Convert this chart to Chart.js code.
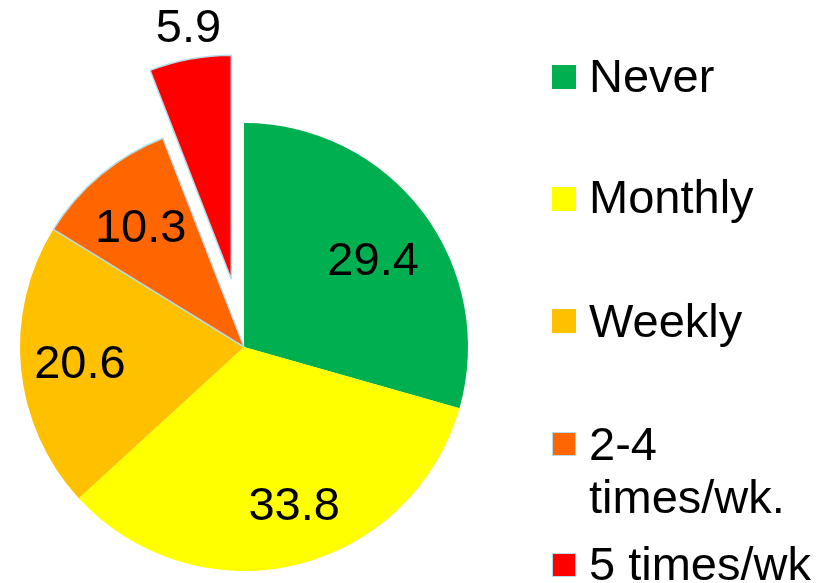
<!DOCTYPE html>
<html>
<head>
<meta charset="utf-8">
<script src="https://cdn.jsdelivr.net/npm/chart.js@4/dist/chart.umd.min.js"></script>
<style>
  html, body { margin: 0; padding: 0; background: #ffffff; }
  #wrap { position: relative; width: 831px; height: 583px; overflow: hidden; }
  #chartBox { position: absolute; left: 0; top: 0; width: 831px; height: 583px; }
  .sw { position: absolute; left: 552px; width: 24px; height: 24px; box-sizing: border-box; }
  .lt { position: absolute; left: 589px; width: 242px; font-family: "Liberation Sans", Arial, sans-serif;
        font-size: 47px; line-height: 53px; color: #000; white-space: normal; }
</style>
</head>
<body>
<div id="wrap">
  <div id="chartBox"><canvas id="c"></canvas></div>
  <div id="legend"></div>
</div>
<script>
// ---- data ----
const categories = ["Never", "Monthly", "Weekly", "2-4 times/wk.", "5 times/wk"];
const values = [29.4, 33.8, 20.6, 10.3, 5.9];
const colors = ["#00B050", "#FFFF00", "#FFC000", "#FF6600", "#FF0000"];
const explodedIndex = 4;

// ---- style ----
const edgeColor = "#B7DDE8";
const borderWidths = [0, 0, 0, 1.5, 1.5];
const explodeDistance = 69;
const labelRadiusFactor = [0.70, 0.70, 0.70, 0.70, 1.134];
const labelNudge = [[4, 10], [14, 7], [-8, 3], [-3, 3], [4, 0]];
const legendSwatchTops = [65, 187, 309, 432, 553];
const legendTextTops = [49, 170, 294, 417, 537];

const explodePlugin = {
  id: "explode",
  afterUpdate(chart) {
    const meta = chart.getDatasetMeta(0);
    const el = meta.data[explodedIndex];
    if (!el) return;
    const mid = (el.startAngle + el.endAngle) / 2;
    el.x += Math.cos(mid) * explodeDistance;
    el.y += Math.sin(mid) * explodeDistance;
  }
};

const labelPlugin = {
  id: "sliceLabels",
  afterDatasetsDraw(chart) {
    const ctx = chart.ctx;
    const meta = chart.getDatasetMeta(0);
    const data = chart.data.datasets[0].data;
    ctx.save();
    ctx.font = '47px "Liberation Sans", Arial, sans-serif';
    ctx.fillStyle = "#000000";
    ctx.textAlign = "center";
    ctx.textBaseline = "middle";
    meta.data.forEach((el, i) => {
      const mid = (el.startAngle + el.endAngle) / 2;
      const r = el.outerRadius * labelRadiusFactor[i];
      const x = el.x + Math.cos(mid) * r + labelNudge[i][0];
      const y = el.y + Math.sin(mid) * r + labelNudge[i][1];
      ctx.fillText(data[i].toFixed(1), x, y);
    });
    ctx.restore();
  }
};

new Chart(document.getElementById("c"), {
  type: "pie",
  data: {
    labels: categories,
    datasets: [{
      data: values,
      backgroundColor: colors,
      borderColor: edgeColor,
      borderWidth: borderWidths
    }]
  },
  options: {
    responsive: true,
    maintainAspectRatio: false,
    animation: false,
    events: [],
    radius: 224,
    layout: { padding: { left: 20, right: 363, top: 123, bottom: 12 } },
    plugins: {
      legend: { display: false },
      tooltip: { enabled: false }
    }
  },
  plugins: [explodePlugin, labelPlugin]
});

// HTML legend built from the arrays
const legend = document.getElementById("legend");
categories.forEach((name, i) => {
  const sw = document.createElement("div");
  sw.className = "sw";
  sw.style.top = legendSwatchTops[i] + "px";
  sw.style.background = colors[i];
  if (borderWidths[i] > 0) sw.style.border = "1.5px solid " + edgeColor;
  legend.appendChild(sw);
  const t = document.createElement("div");
  t.className = "lt";
  t.style.top = legendTextTops[i] + "px";
  t.textContent = name;
  legend.appendChild(t);
});
</script>
</body>
</html>
